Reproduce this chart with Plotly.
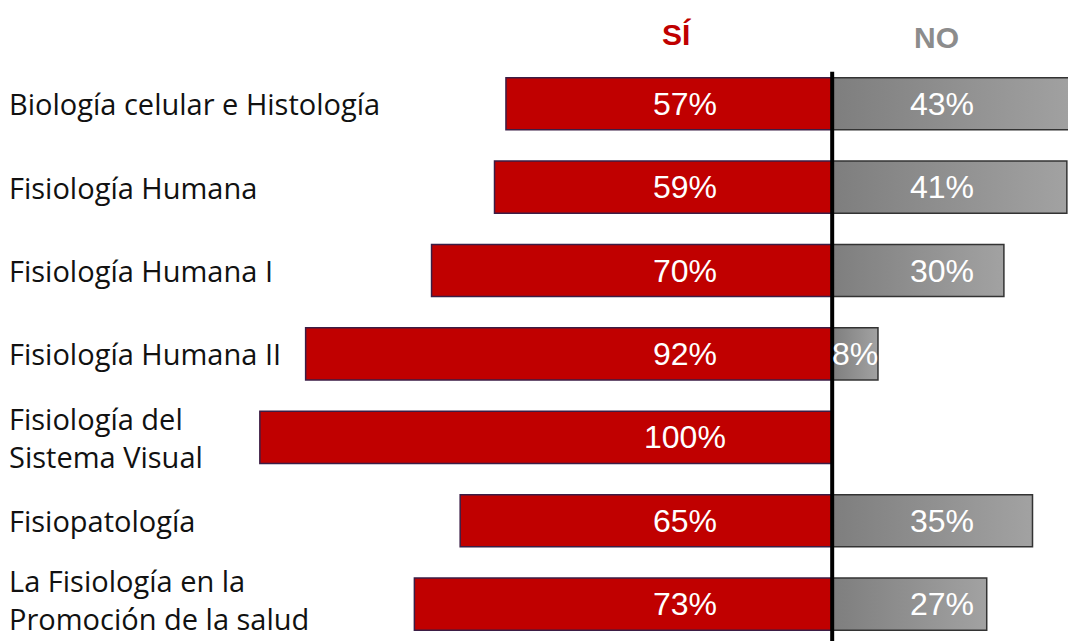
import plotly.graph_objects as go

categories = [
    "Biología celular e Histología",
    "Fisiología Humana",
    "Fisiología Humana I",
    "Fisiología Humana II",
    "Fisiología del<br>Sistema Visual",
    "Fisiopatología",
    "La Fisiología en la<br>Promoción de la salud",
]
si_values = [57, 59, 70, 92, 100, 65, 73]
no_values = [43, 41, 30, 8, 0, 35, 27]
header_labels = ["SÍ", "NO"]

RED = "#c00000"
LABEL_FONT = "Open Sans"
VAL_FONT = "Liberation Sans"
BAR_W = 0.625

ypos = list(range(len(categories)))

fig = go.Figure()
fig.add_trace(go.Bar(
    y=ypos, x=[-v for v in si_values], orientation="h", base=0,
    marker=dict(color=RED, line=dict(color="#3b1d45", width=1.5)),
    width=BAR_W, hoverinfo="skip", showlegend=False,
))
# NO bars drawn as filled rectangles (to get a horizontal gradient fill)
for i, n in zip(ypos, no_values):
    if n <= 0:
        continue
    h = BAR_W / 2
    fig.add_trace(go.Scatter(
        x=[0, n, n, 0, 0], y=[i - h, i - h, i + h, i + h, i - h],
        mode="lines", fill="toself",
        fillgradient=dict(type="horizontal",
                          colorscale=[[0, "#7e7e7e"], [1, "#a2a2a2"]]),
        line=dict(color="#333333", width=1.5),
        hoverinfo="skip", showlegend=False,
    ))

ann = []
last = len(categories) - 1
for i, (c, s, n) in enumerate(zip(categories, si_values, no_values)):
    ann.append(dict(x=0.007, xref="paper", y=i, yref="y", text=c, showarrow=False,
                    xanchor="left", yanchor="middle", align="left",
                    yshift=5 if i == last else 0,
                    font=dict(family=LABEL_FONT, size=29, color="#111111")))
    ann.append(dict(x=-25.7, y=i, text=f"{s}%", showarrow=False,
                    xanchor="center", yanchor="middle",
                    font=dict(family=VAL_FONT, size=32, color="white")))
    if n > 0:
        nx = 19.2 if n >= 20 else n / 2
        ann.append(dict(x=nx, y=i, text=f"{n}%", showarrow=False,
                        xanchor="center", yanchor="middle",
                        font=dict(family=VAL_FONT, size=32, color="white")))

ann.append(dict(x=-27.2, y=1.047, yref="paper", text=f"<b>{header_labels[0]}</b>",
                showarrow=False, xanchor="center", yanchor="middle",
                font=dict(family=VAL_FONT, size=30, color=RED)))
ann.append(dict(x=18.2, y=1.043, yref="paper", text=f"<b>{header_labels[1]}</b>",
                showarrow=False, xanchor="center", yanchor="middle",
                font=dict(family=VAL_FONT, size=30, color="#8c8c8c")))

fig.update_layout(
    width=1068, height=641,
    margin=dict(l=0, r=0, t=62, b=0),
    paper_bgcolor="white", plot_bgcolor="white",
    barmode="overlay",
    xaxis=dict(range=[-145.4, 41.2], visible=False, fixedrange=True),
    yaxis=dict(range=[6.442, -0.5], visible=False, fixedrange=True),
    annotations=ann,
    shapes=[dict(type="line", xref="x", yref="paper", x0=0, x1=0, y0=0, y1=0.983,
                 line=dict(color="black", width=4), layer="above")],
)

fig.write_html("out.html", config={"displayModeBar": False},
               post_script="document.body.style.margin='0px';")
